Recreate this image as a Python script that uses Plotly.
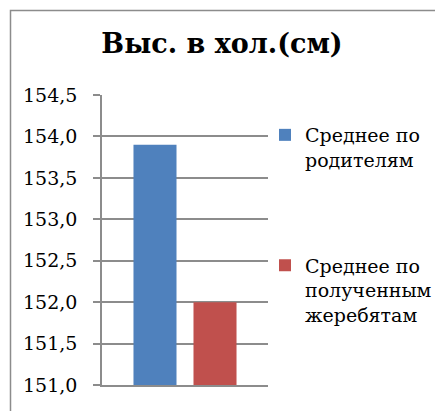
import plotly.graph_objects as go

categories = [""]
series_names = ["Среднее по<br>родителям", "Среднее по<br>полученным<br>жеребятам"]
parents_values = [153.9]
foals_values = [152.0]
colors = ["#4F81BD", "#C0504D"]
title_text = "Выс. в хол.(см)"

OFF = 8  # page body margin
W, H = 443 - OFF, 411 - OFF
# plot area in page pixels
PL, PR, PT, PB = 102, 268, 95, 385
L, T = PL - OFF, PT - OFF
R, B = W - (PR - OFF), H - (PB - OFF)
pw, ph = PR - PL, PB - PT

def px_x(p):
    return (p - PL) / pw

def px_y(p):
    return (PB - p) / ph

fig = go.Figure()
fig.add_trace(go.Bar(x=categories, y=parents_values, name=series_names[0],
                     marker=dict(color=colors[0], line=dict(width=0)),
                     legendgroup="a"))
fig.add_trace(go.Bar(x=categories, y=foals_values, name=series_names[1],
                     marker=dict(color=colors[1], line=dict(width=0)),
                     legendgroup="b"))

grid = "#8C8C8C"
font_family = "DejaVu Serif"

fig.update_layout(
    template="none",
    width=W, height=H,
    margin=dict(l=L, r=R, t=T, b=B, autoexpand=False),
    paper_bgcolor="white", plot_bgcolor="white",
    barmode="group", bargap=0.277, bargroupgap=0.283,
    separators=", ",
    font=dict(family=font_family, color="black"),
    title=dict(text="<b>" + title_text + "</b>", x=px_x(222), xref="paper",
               xanchor="center", y=1 - (44 - OFF) / H, yref="container",
               yanchor="middle",
               font=dict(size=27, family=font_family, color="black")),
    showlegend=True,
    legend=dict(x=px_x(265), xanchor="left", y=px_y(116), yanchor="top",
                xref="paper", yref="paper",
                font=dict(size=19, family=font_family, color="black"),
                valign="top", traceorder="grouped", tracegroupgap=78,
                bgcolor="rgba(0,0,0,0)"),
    xaxis=dict(showgrid=False, showticklabels=False, ticks="",
               showline=True, linecolor=grid, linewidth=1.5,
               fixedrange=True),
    yaxis=dict(range=[151, 154.5], dtick=0.5, tick0=151, tickformat=".1f",
               showgrid=True, gridcolor=grid, gridwidth=1.5,
               showline=True, linecolor=grid, linewidth=1.5,
               ticks="outside", ticklen=7, tickcolor=grid, tickwidth=1.5,
               ticklabelstandoff=12,
               tickfont=dict(size=19, family=font_family, color="black"),
               zeroline=False, fixedrange=True),
    shapes=[dict(type="rect", xref="paper", yref="paper",
                 x0=px_x(10.5), x1=px_x(470), y0=px_y(440), y1=px_y(10.5),
                 line=dict(color="#8C8C8C", width=1.5), fillcolor="rgba(0,0,0,0)",
                 layer="below")],
)

fig.write_html("out.html")
